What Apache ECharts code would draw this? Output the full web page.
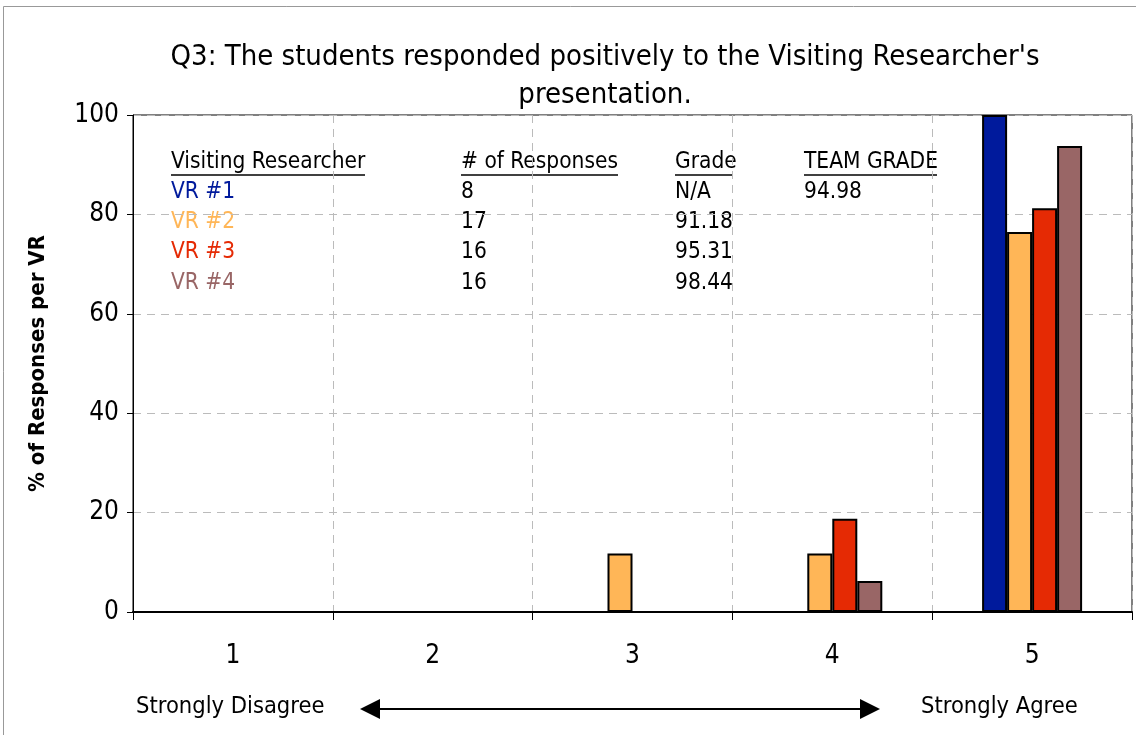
<!DOCTYPE html>
<html>
<head>
<meta charset="utf-8">
<script src="https://cdn.jsdelivr.net/npm/echarts@6/dist/echarts.min.js"></script>
<style>
  html, body { margin: 0; padding: 0; background: #fff; }
  #chart { width: 1136px; height: 735px; }
</style>
</head>
<body>
<div id="chart"></div>
<script>
var categories = ['1', '2', '3', '4', '5'];
var vr1 = [0, 0, 0, 0, 100];
var vr2 = [0, 0, 11.76, 11.76, 76.47];
var vr3 = [0, 0, 0, 18.75, 81.25];
var vr4 = [0, 0, 0, 6.25, 93.75];
var seriesNames = ['VR #1', 'VR #2', 'VR #3', 'VR #4'];
var seriesColors = ['#001A9C', '#FFB657', '#E52A04', '#996666'];
var tableHeaders = ['Visiting Researcher', '# of Responses', 'Grade', 'TEAM GRADE'];
var responses = ['8', '17', '16', '16'];
var grades = ['N/A', '91.18', '95.31', '98.44'];
var teamGrade = '94.98';

var font = "'DejaVu Sans Condensed', sans-serif";

function txt(x, y, s, color, size) {
  return { type: 'text', x: x, y: y,
    style: { text: s, fontFamily: font, fontSize: size || 22.5, fill: color || '#000', textVerticalAlign: 'middle' } };
}

document.addEventListener('DOMContentLoaded', function () {
  var chart = echarts.init(document.getElementById('chart'));

  // table drawn as graphic text inside the plot
  var colX = [171, 461, 675, 804];
  var headerW = [194, 157, 58, 133];
  var rowY = [192, 222, 252, 283];
  var g = [];
  tableHeaders.forEach(function (h, i) {
    g.push(txt(colX[i], 162, h));
    g.push({ type: 'line', shape: { x1: colX[i], y1: 175, x2: colX[i] + headerW[i], y2: 175 },
      style: { stroke: '#000', lineWidth: 1.5 } });
  });
  seriesNames.forEach(function (n, i) {
    g.push(txt(colX[0], rowY[i], n, seriesColors[i]));
    g.push(txt(colX[1], rowY[i], responses[i]));
    g.push(txt(colX[2], rowY[i], grades[i]));
  });
  g.push(txt(colX[3], rowY[0], teamGrade));

  // bottom scale caption with arrow
  g.push(txt(136, 707, 'Strongly Disagree', '#000', 23.5));
  g.push(txt(921, 707, 'Strongly Agree', '#000', 23.5));
  g.push({ type: 'line', shape: { x1: 370, y1: 709, x2: 870, y2: 709 },
    style: { stroke: '#000', lineWidth: 2 } });
  g.push({ type: 'polygon', shape: { points: [[360, 709], [380, 699], [380, 719]] },
    style: { fill: '#000' } });
  g.push({ type: 'polygon', shape: { points: [[880, 709], [860, 699], [860, 719]] },
    style: { fill: '#000' } });
  // outer frame
  g.push({ type: 'rect', shape: { x: 3.5, y: 6.5, width: 1140, height: 740 },
    style: { fill: 'none', stroke: '#999', lineWidth: 1 }, z: -1 });

  var allData = [vr1, vr2, vr3, vr4];
  var series = allData.map(function (d, i) {
    return {
      name: seriesNames[i],
      type: 'bar',
      data: d,
      barWidth: 25,
      barGap: '0%',
      itemStyle: { color: seriesColors[i], borderColor: '#000', borderWidth: 2 }
    };
  });

  var option = {
    animation: false,
    backgroundColor: '#fff',
    title: {
      text: "Q3: The students responded positively to the Visiting Researcher's\npresentation.",
      left: 600, top: 33, textAlign: 'center',
      textStyle: { fontFamily: font, fontSize: 29, fontWeight: 'normal', color: '#000', lineHeight: 38 }
    },
    grid: { left: 133, right: 4, top: 115, bottom: 123, show: true, borderColor: '#000', borderWidth: 1, backgroundColor: 'transparent' },
    xAxis: {
      type: 'category',
      data: categories,
      axisLine: { lineStyle: { color: '#000', width: 2 } },
      axisTick: { show: true, length: 8, lineStyle: { color: '#000' } },
      axisLabel: { margin: 31, fontFamily: font, fontSize: 26, color: '#000' },
      splitLine: { show: true, lineStyle: { color: '#bbb', type: [8, 6], width: 1 } }
    },
    yAxis: {
      type: 'value',
      min: 0, max: 100, interval: 20,
      name: '% of Responses per VR',
      nameLocation: 'middle',
      nameGap: 84,
      nameTextStyle: { fontFamily: font, fontSize: 22, fontWeight: 'bold', color: '#000' },
      axisLine: { show: true, lineStyle: { color: '#000', width: 1 } },
      axisTick: { show: true, length: 6, lineStyle: { color: '#000' } },
      axisLabel: { margin: 14, fontFamily: font, fontSize: 26, color: '#000' },
      splitLine: { show: true, lineStyle: { color: '#bbb', type: [8, 6], width: 1 } }
    },
    graphic: g,
    series: series
  };
  chart.setOption(option);
});
</script>
</body>
</html>
